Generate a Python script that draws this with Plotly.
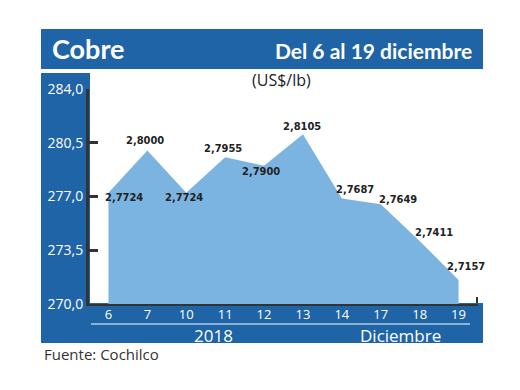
import plotly.graph_objects as go

# ---- data ----
dias = ["6", "7", "10", "11", "12", "13", "14", "17", "18", "19"]
precios = [2.7724, 2.8000, 2.7724, 2.7955, 2.7900, 2.8105, 2.7687, 2.7649, 2.7411, 2.7157]
y_ticks = [270.0, 273.5, 277.0, 280.5, 284.0]

# label offsets (style only)
lab_dx = [16, -2, -2, -2, -3, -1, 13, 17, 14, 7]
lab_dy = [-5, 10, -5, 9, -6, 8, 9, 5, 8, 13]

W, H = 520, 390
L, R, T, B = 89, 42, 89, 86
PW, PH = W - L - R, H - T - B

def px(x):
    return (x - L) / PW

def py(y):
    return (H - B - y) / PH

BLUE = "#1f64a7"
FILL = "#7cb4e1"
DARK = "#333333"

xi = list(range(len(dias)))
yv = [p * 100 for p in precios]

fig = go.Figure()
fig.add_trace(go.Scatter(
    x=xi, y=yv, mode="lines", line=dict(width=0, color=FILL),
    fill="tozeroy", fillcolor=FILL, hoverinfo="skip", showlegend=False,
))

annotations = []
for i, p in enumerate(precios):
    annotations.append(dict(
        x=xi[i], y=yv[i], xref="x", yref="y",
        text="<b>" + f"{p:.4f}".replace(".", ",") + "</b>", showarrow=False,
        xshift=lab_dx[i], yshift=lab_dy[i],
        font=dict(family="DejaVu Sans Condensed, Liberation Serif", size=11, color="#222222"),
    ))

# header texts
annotations += [
    dict(x=px(50), y=py(49), xref="paper", yref="paper", text="<b>Cobre</b>",
         showarrow=False, xanchor="left", yanchor="middle",
         font=dict(family="Lato, Open Sans", size=27, color="white")),
    dict(x=px(474), y=py(50), xref="paper", yref="paper", text="<b>Del 6 al 19 diciembre</b>",
         showarrow=False, xanchor="right", yanchor="middle",
         font=dict(family="Lato, Open Sans", size=21, color="white")),
    dict(x=px(281), y=py(80), xref="paper", yref="paper", text="(US$/lb)",
         showarrow=False, xanchor="center", yanchor="middle",
         font=dict(family="Open Sans, Lato", size=16, color="#222222")),
    dict(x=px(213), y=py(335), xref="paper", yref="paper", text="2018",
         showarrow=False, xanchor="center", yanchor="middle",
         font=dict(family="Open Sans, Lato", size=17, color="white")),
    dict(x=px(400), y=py(335), xref="paper", yref="paper", text="Diciembre",
         showarrow=False, xanchor="center", yanchor="middle",
         font=dict(family="Open Sans, Lato", size=17, color="white")),
    dict(x=px(42), y=py(354), xref="paper", yref="paper", text="Fuente: Cochilco",
         showarrow=False, xanchor="left", yanchor="middle",
         font=dict(family="Open Sans, Lato", size=15, color="#333333")),
]

shapes = [
    dict(type="rect", xref="paper", yref="paper", x0=px(41), x1=px(483), y0=py(69), y1=py(29),
         fillcolor=BLUE, line=dict(width=0), layer="below"),
    dict(type="rect", xref="paper", yref="paper", x0=px(41), x1=px(90), y0=py(343), y1=py(73),
         fillcolor=BLUE, line=dict(width=0), layer="below"),
    dict(type="rect", xref="paper", yref="paper", x0=px(41), x1=px(483), y0=py(343), y1=py(303),
         fillcolor=BLUE, line=dict(width=0), layer="below"),
    dict(type="line", xref="paper", yref="paper", x0=px(91), x1=px(470), y0=py(324), y1=py(324),
         line=dict(color="white", width=1.2)),
    dict(type="line", xref="paper", yref="paper", x0=px(477), x1=px(477), y0=py(303), y1=py(297),
         line=dict(color=DARK, width=2)),
]

fig.update_layout(
    width=W, height=H,
    margin=dict(l=L, r=R, t=T, b=B, pad=0),
    paper_bgcolor="white", plot_bgcolor="rgba(0,0,0,0)",
    separators=",.",
    showlegend=False,
    annotations=annotations,
    shapes=shapes,
    xaxis=dict(
        range=[-0.5, 9.5], tickmode="array", tickvals=xi, ticktext=dias,
        showgrid=False, zeroline=False, showline=True, linecolor=DARK, linewidth=2,
        ticks="", tickfont=dict(family="Open Sans, Lato", size=13, color="white"),
        ticklabelstandoff=-3,
    ),
    yaxis=dict(
        range=[270, 284], tickmode="array", tickvals=y_ticks, tickformat=".1f",
        showgrid=False, zeroline=False, showline=True, linecolor=DARK, linewidth=3,
        ticks="inside", ticklen=9, tickwidth=3, tickcolor=DARK,
        tickfont=dict(family="Open Sans, Lato", size=14, color="white"),
        ticklabelstandoff=0,
    ),
)

fig.write_html("out.html", config={"displayModeBar": False},
               post_script="document.body.style.margin='0px';document.body.style.overflow='hidden';")
